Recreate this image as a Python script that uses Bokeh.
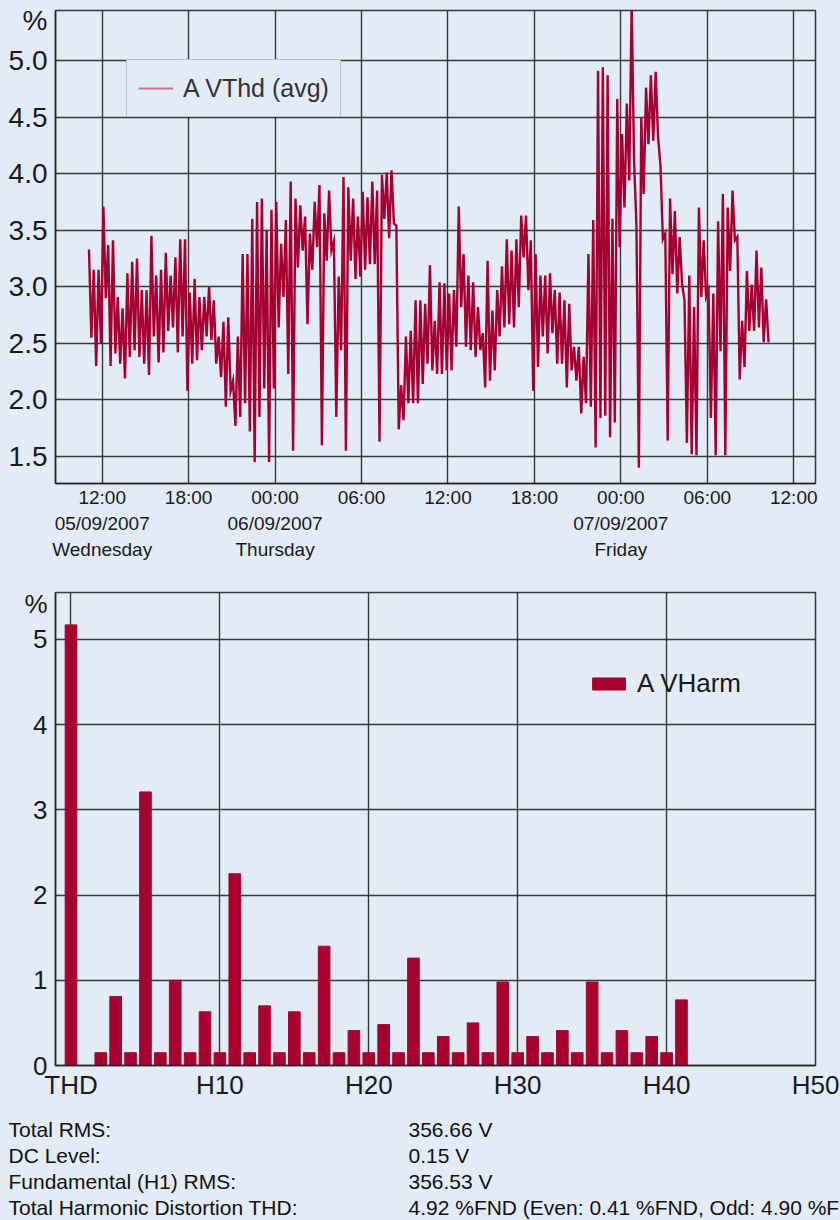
from bokeh.plotting import figure
from bokeh.models import Range1d, FixedTicker, Legend, LegendItem
from bokeh.layouts import column
from bokeh.embed import file_html
from bokeh.resources import INLINE
from bokeh.core.properties import value

BG = "#e3ebf7"
RED = "#a50031"
BAR = "#a8002f"
GRID = "#262626"
FONT = "Liberation Sans"

# ---------------- Top chart data: A VThd (avg), % ----------------
# time in hours since 00:00 05/09/2007, 20-minute intervals (max / min in each)
vthd_start_hours = 11.0
vthd_step_hours = 1.0 / 3.0
vthd_high = [
    3.33, 3.15, 3.15, 3.71, 3.37, 3.41, 2.91, 2.81, 3.12, 3.22, 3.25, 2.97,
    2.97, 3.45, 3.10, 3.15, 3.30, 3.10, 3.26, 3.42, 3.42, 2.95, 3.07, 2.91,
    2.91, 3.00, 2.88, 2.56, 2.69, 2.73, 2.17, 2.56, 3.29, 3.29, 3.60, 3.75,
    3.78, 3.50, 3.68, 3.75, 3.38, 3.59, 3.93, 3.78, 3.72, 3.62, 3.47, 3.75,
    3.90, 3.65, 3.85, 3.40, 3.09, 3.97, 3.88, 3.78, 3.62, 3.84, 3.79, 3.93,
    3.85, 3.99, 4.01, 4.03, 3.54, 2.13, 2.56, 2.61, 2.88, 2.88, 2.85, 3.19,
    2.70, 3.04, 3.03, 2.94, 2.97, 3.71, 3.29, 3.10, 3.04, 2.82, 2.59, 3.23,
    2.79, 2.97, 3.18, 3.42, 3.32, 3.42, 3.63, 3.63, 3.41, 3.29, 3.10, 3.10,
    3.12, 2.97, 2.95, 2.88, 2.85, 2.47, 2.47, 2.38, 3.29, 3.59,
    4.91, 4.94, 4.87, 3.60, 4.66, 4.35, 4.62, 5.50, 3.53, 4.50, 4.76, 4.87,
    4.90, 4.07, 3.47, 3.78, 3.67, 3.44, 2.88, 3.10, 2.82, 3.70, 3.41, 2.97,
    2.94, 3.58, 3.82, 3.70, 3.85, 3.44, 2.70, 3.14, 3.02, 3.32, 3.17, 2.89,
]
vthd_low = [
    2.55, 2.30, 2.50, 2.90, 2.30, 2.41, 2.32, 2.19, 2.38, 2.44, 2.38, 2.32,
    2.22, 2.56, 2.33, 2.42, 2.61, 2.64, 2.42, 2.56, 2.08, 2.32, 2.35, 2.44,
    2.56, 2.53, 2.32, 2.20, 1.94, 2.08, 1.77, 1.85, 1.97, 1.72, 1.45, 1.85,
    2.10, 1.45, 2.10, 2.64, 2.91, 2.23, 1.55, 3.17, 3.32, 2.67, 3.15, 3.35,
    1.60, 3.23, 3.32, 1.85, 2.44, 1.55, 3.23, 3.07, 3.09, 3.15, 3.20, 3.20,
    1.63, 3.60, 3.43, 3.56, 1.74, 1.82, 1.97, 1.97, 1.97, 2.14, 2.32, 2.26,
    2.23, 2.23, 2.26, 2.26, 2.47, 2.82, 2.47, 2.44, 2.38, 2.44, 2.11, 2.17,
    2.26, 2.56, 2.64, 2.67, 2.64, 2.82, 3.26, 2.97, 2.08, 2.29, 2.56, 2.41,
    2.59, 2.32, 2.32, 2.11, 2.26, 2.17, 1.88, 1.97, 1.94, 1.58,
    1.84, 1.86, 1.67, 1.80, 3.35, 3.70, 3.94, 4.12, 1.40, 3.82, 4.26, 4.29,
    4.32, 3.42, 1.64, 3.11, 2.94, 3.02, 1.62, 1.52, 1.51, 2.91, 2.91, 1.84,
    1.51, 2.43, 1.51, 3.14, 3.41, 2.18, 2.29, 2.61, 2.61, 2.64, 2.51, 2.51,
]
x_tick_hours = [12, 18, 24, 30, 36, 42, 48, 54, 60]
x_tick_labels = ["12:00\n05/09/2007\nWednesday", "18:00",
                 "00:00\n06/09/2007\nThursday", "06:00", "12:00", "18:00",
                 "00:00\n07/09/2007\nFriday", "06:00", "12:00"]
y_ticks_top = [1.5, 2.0, 2.5, 3.0, 3.5, 4.0, 4.5, 5.0]
y_labels_top = ["1.5", "2.0", "2.5", "3.0", "3.5", "4.0", "4.5", "5.0"]

# ---------------- Bottom chart data: A VHarm, % ----------------
harm_order = [0] + list(range(2, 42))
harm_values = [5.17,
               0.15, 0.81, 0.15, 3.21, 0.15, 1.00, 0.15, 0.63, 0.15, 2.25,
               0.15, 0.70, 0.15, 0.63, 0.15, 1.40, 0.15, 0.41, 0.15, 0.48,
               0.15, 1.26, 0.15, 0.34, 0.15, 0.50, 0.15, 0.98, 0.15, 0.34,
               0.15, 0.41, 0.15, 0.98, 0.15, 0.41, 0.15, 0.34, 0.15, 0.77]
harm_ticks = [0, 10, 20, 30, 40, 50]
harm_tick_labels = ["THD", "H10", "H20", "H30", "H40", "H50"]
harm_y_ticks = [0, 1, 2, 3, 4, 5]

info_labels = ["Total RMS:", "DC Level:", "Fundamental (H1) RMS:",
               "Total Harmonic Distortion THD:"]
info_values = ["356.66 V", "0.15 V", "356.53 V",
               "4.92 %FND (Even: 0.41 %FND, Odd: 4.90 %FND)"]

# ---------------- build zig-zag trace (max/min per interval) ----------------
xs, ys = [], []
for i, (hi, lo) in enumerate(zip(vthd_high, vthd_low)):
    t = vthd_start_hours + i * vthd_step_hours
    xs += [t + 0.25 * vthd_step_hours, t + 0.75 * vthd_step_hours]
    ys += [hi, lo]

W = 840
BL, BR = 55, 25


def style_common(p):
    p.background_fill_color = BG
    p.border_fill_color = BG
    p.outline_line_color = GRID
    p.outline_line_width = 1.5
    p.outline_line_alpha = 0.9
    p.grid.grid_line_color = GRID
    p.grid.grid_line_width = 1.4
    p.grid.grid_line_alpha = 0.9
    for ax in p.axis:
        ax.axis_line_color = GRID
        ax.axis_line_width = 1.5
        ax.major_tick_line_color = None
        ax.minor_tick_line_color = None
        ax.major_tick_out = 0
        ax.major_tick_in = 0
        ax.major_label_text_font = FONT
        ax.major_label_text_color = "#1a1a1a"


# ---------------- Top figure ----------------
p1 = figure(width=W, height=572, x_range=Range1d(8.76, 61.51),
            y_range=Range1d(1.261, 5.442), output_backend="svg",
            toolbar_location=None, min_border_left=BL, min_border_right=BR,
            min_border_top=10, min_border_bottom=89)
p1.line(xs, ys, line_color=RED, line_width=2.4, line_join="miter")
style_common(p1)

pct_top = 5.35
p1.yaxis.ticker = FixedTicker(ticks=y_ticks_top + [pct_top])
ov = {t: l for t, l in zip(y_ticks_top, y_labels_top)}
ov[pct_top] = "%"
p1.yaxis.major_label_overrides = ov
p1.yaxis.major_label_text_font_size = "28px"
p1.yaxis.major_label_standoff = 8
p1.ygrid.ticker = FixedTicker(ticks=y_ticks_top)

p1.xaxis.ticker = FixedTicker(ticks=x_tick_hours)
p1.xaxis.major_label_overrides = {t: l for t, l in zip(x_tick_hours, x_tick_labels)}
p1.xaxis.major_label_text_font_size = "19px"
p1.xaxis.major_label_text_line_height = 1.25
p1.xaxis.major_label_standoff = 3
p1.xgrid.ticker = FixedTicker(ticks=x_tick_hours)

# legend sample line (drawn outside the visible range, shown only in legend)
leg_r = p1.line([10, 11], [0, 0], line_color="#d2708a", line_width=2)
leg1 = Legend(items=[LegendItem(label="A VThd (avg)", renderers=[leg_r])],
              location=(71, 366), background_fill_color=BG,
              background_fill_alpha=1.0, border_line_color="#8d929b",
              border_line_alpha=0.45, label_text_font=FONT,
              label_text_font_size="25px", label_text_color="#333333",
              glyph_width=35, glyph_height=34, label_height=34,
              padding=11, margin=0, spacing=0, label_standoff=10)
p1.add_layout(leg1)

# ---------------- Bottom figure ----------------
p2 = figure(width=W, height=530, x_range=Range1d(-1.04, 50.0),
            y_range=Range1d(0, 5.55), output_backend="svg",
            toolbar_location=None, min_border_left=BL, min_border_right=BR,
            min_border_top=20, min_border_bottom=37)
bars = p2.vbar(x=harm_order, top=harm_values, width=0.78,
               fill_color=BAR, line_color=BAR)
style_common(p2)

pct_bot = 5.42
p2.yaxis.ticker = FixedTicker(ticks=harm_y_ticks + [pct_bot])
ov2 = {t: str(t) for t in harm_y_ticks}
ov2[pct_bot] = "%"
p2.yaxis.major_label_overrides = ov2
p2.yaxis.major_label_text_font_size = "26px"
p2.yaxis.major_label_standoff = 8
p2.ygrid.ticker = FixedTicker(ticks=[1, 2, 3, 4, 5])

p2.xaxis.ticker = FixedTicker(ticks=harm_ticks)
p2.xaxis.major_label_overrides = {t: l for t, l in zip(harm_ticks, harm_tick_labels)}
p2.xaxis.major_label_text_font_size = "26px"
p2.xaxis.major_label_standoff = 4
p2.xgrid.ticker = FixedTicker(ticks=[0, 10, 20, 30, 40])

leg2 = Legend(items=[LegendItem(label="A VHarm", renderers=[bars])],
              location=(533, 366), background_fill_alpha=0.0,
              border_line_color=None, label_text_font=FONT,
              label_text_font_size="26px", label_text_color="#1a1a1a",
              glyph_width=41, glyph_height=15, label_height=15,
              padding=0, margin=0, spacing=0, label_standoff=8)
p2.add_layout(leg2)

# ---------------- Text block ----------------
H3 = 118
p3 = figure(width=W, height=H3, x_range=Range1d(0, W),
            y_range=Range1d(0, H3), output_backend="svg",
            toolbar_location=None, min_border=0,
            min_border_left=0, min_border_right=0,
            min_border_top=0, min_border_bottom=0,
            x_axis_location=None, y_axis_location=None)
p3.frame_align = False
p3.background_fill_color = BG
p3.border_fill_color = BG
p3.outline_line_color = None
p3.grid.visible = False
row_y = [H3 - (27 + 26 * i) for i in range(len(info_labels))]
p3.text(x=[8] * len(info_labels), y=row_y, text=info_labels,
        text_font=value(FONT), text_font_size="21px",
        text_baseline="middle", text_align="left", text_color="#111111")
p3.text(x=[408] * len(info_values), y=row_y, text=info_values,
        text_font=value(FONT), text_font_size="21px",
        text_baseline="middle", text_align="left", text_color="#111111")

layout = column(p1, p2, p3, spacing=0)
html = file_html(layout, INLINE, title="A VThd / A VHarm")
html = html.replace("</head>",
                    "<style>html,body{background:%s;}</style></head>" % BG, 1)
open("out.html", "w").write(html)
